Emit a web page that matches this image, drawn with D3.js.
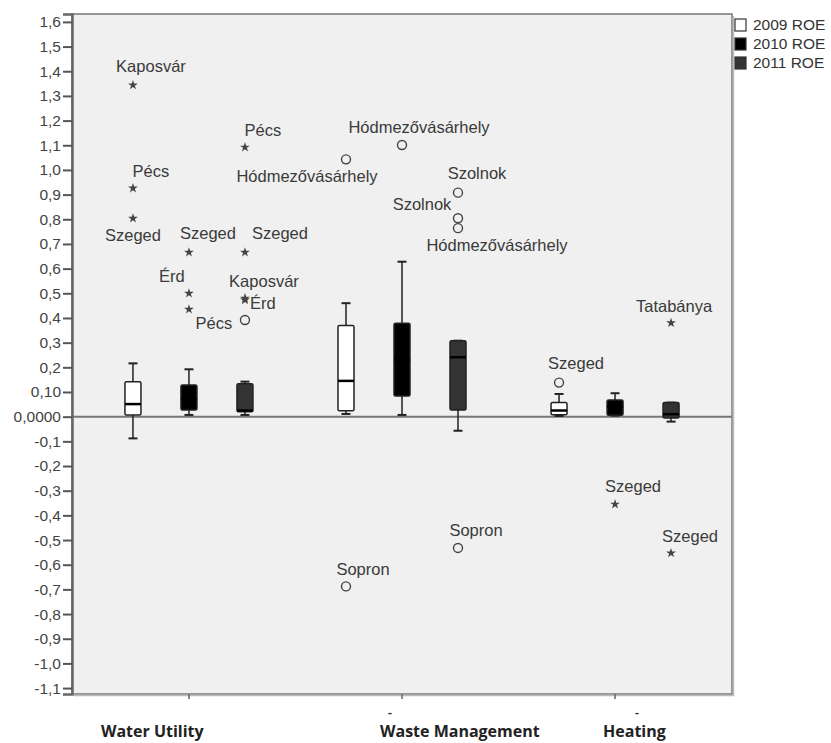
<!DOCTYPE html>
<html>
<head>
<meta charset="utf-8">
<script src="https://cdn.jsdelivr.net/npm/d3@7"></script>
<style>
  body { margin: 0; background: #fff; }
  svg { display: block; }
</style>
</head>
<body>
<div id="chart"></div>
<script>
// categories and series
var categories = ["Water Utility", "Waste Management", "Heating"];
var series = ["2009 ROE", "2010 ROE", "2011 ROE"];
var seriesFill = ["#ffffff", "#000000", "#333333"];

// box stats, rows = category, columns = series
var whiskerLow = [[-0.088, 0.007, 0.007], [0.011, 0.007, -0.057], [0.003, 0.004, -0.02]];
var quartile1  = [[0.007, 0.027, 0.02],   [0.024, 0.084, 0.027],  [0.008, 0.006, -0.005]];
var medians    = [[0.051, 0.07, 0.025],   [0.145, 0.23, 0.241],   [0.025, 0.04, 0.01]];
var quartile3  = [[0.142, 0.128, 0.133],  [0.37, 0.379, 0.308],   [0.057, 0.068, 0.057]];
var whiskerHigh= [[0.216, 0.192, 0.142],  [0.46, 0.628, 0.308],   [0.092, 0.095, 0.057]];

// outliers
var outCategory = [0, 0, 0, 0, 0, 0, 0, 0, 0, 0, 0, 1, 1, 1, 1, 1, 1, 1, 2, 2, 2, 2];
var outSeries   = [0, 0, 0, 1, 1, 1, 2, 2, 2, 2, 2, 0, 0, 1, 2, 2, 2, 2, 0, 1, 2, 2];
var outValue    = [1.344, 0.926, 0.804, 0.666, 0.5, 0.435, 1.092, 0.666, 0.48, 0.473, 0.392,
                   1.043, -0.688, 1.101, 0.908, 0.804, 0.764, -0.532, 0.138, -0.355, 0.38, -0.553];
var outLabel    = ["Kaposvár", "Pécs", "Szeged", "Szeged", "Érd", "", "Pécs", "Szeged", "Kaposvár", "Érd", "Pécs",
                   "Hódmezővásárhely", "Sopron", "Hódmezővásárhely", "Szolnok", "Szolnok", "Hódmezővásárhely", "Sopron",
                   "Szeged", "Szeged", "Tatabánya", "Szeged"];
var outShape    = ["star", "star", "star", "star", "star", "star", "star", "star", "star", "star", "circle",
                   "circle", "circle", "circle", "circle", "circle", "circle", "circle",
                   "circle", "star", "star", "star"];
// where each label sits relative to its point (layout only)
var labelNudge  = [[18, -19], [18, -17], [0, 17], [19, -19], [-17, -17], [0, 0], [18, -17], [35, -19], [19, -17], [18, 3], [-31, 3],
                   [-39, 17], [17, -17], [17, -18], [19, -19], [-36, -14], [39, 17], [18, -18],
                   [17, -19], [18, -18], [3, -17], [19, -17]];

// y ticks
var yTicks = [1.6, 1.5, 1.4, 1.3, 1.2, 1.1, 1.0, 0.9, 0.8, 0.7, 0.6, 0.5, 0.4, 0.3, 0.2, 0.1, 0,
              -0.1, -0.2, -0.3, -0.4, -0.5, -0.6, -0.7, -0.8, -0.9, -1.0, -1.1];
var yTickLabels = ["1,6", "1,5", "1,4", "1,3", "1,2", "1,1", "1,0", "0,9", "0,8", "0,7", "0,6", "0,5", "0,4", "0,3", "0,2", "0,10", "0,0000",
                   "-0,1", "-0,2", "-0,3", "-0,4", "-0,5", "-0,6", "-0,7", "-0,8", "-0,9", "-1,0", "-1,1"];

var svgWidth = 831, svgHeight = 743;
var plot = { left: 72, right: 732, top: 14, bottom: 694 };
var boxW = 16, capW = 9;

var svg = d3.select("#chart").append("svg")
    .attr("width", svgWidth)
    .attr("height", svgHeight);

var y = d3.scaleLinear().domain([-1.124, 1.632]).range([plot.bottom, plot.top]);
var xCat = d3.scalePoint().domain(d3.range(categories.length)).range([plot.left, plot.right]).padding(0.549);
var xSer = d3.scalePoint().domain(d3.range(series.length)).range([-56, 56]);

// plot background + frame
svg.append("rect")
    .attr("x", plot.left).attr("y", plot.top)
    .attr("width", plot.right - plot.left).attr("height", plot.bottom - plot.top)
    .attr("fill", "#f0f0f0")
    .attr("stroke", "#777").attr("stroke-width", 1.5);
// a little shadow on right and bottom
svg.append("path")
    .attr("d", `M${plot.right + 1.5},${plot.top + 2}V${plot.bottom + 1.5}H${plot.left + 2}`)
    .attr("fill", "none").attr("stroke", "#bbb").attr("stroke-width", 1.5);

// zero line
svg.append("line")
    .attr("x1", plot.left).attr("x2", plot.right)
    .attr("y1", y(0)).attr("y2", y(0))
    .attr("stroke", "#777").attr("stroke-width", 2);

// y axis
var yAxis = d3.axisLeft(y)
    .tickValues(yTicks)
    .tickFormat(function(d, i) { return yTickLabels[i]; })
    .tickSize(9)
    .tickPadding(2);

var yG = svg.append("g")
    .attr("transform", `translate(${plot.left}, 0)`)
    .call(yAxis);
yG.select(".domain").attr("stroke", "#666").attr("stroke-width", 2.5);
yG.selectAll(".tick line").attr("stroke", "#555").attr("stroke-width", 2);
yG.selectAll(".tick text")
    .attr("fill", "#444")
    .style("font-family", "'Liberation Sans', Arial, sans-serif")
    .style("font-size", "15.5px");

// x ticks at bottom
svg.append("g").selectAll("line")
    .data(categories)
    .enter()
    .append("line")
    .attr("x1", (d, i) => xCat(i)).attr("x2", (d, i) => xCat(i))
    .attr("y1", plot.bottom).attr("y2", plot.bottom + 5)
    .attr("stroke", "#666").attr("stroke-width", 1.5);

// boxes
var boxes = [];
categories.forEach(function(c, ci) {
    series.forEach(function(s, si) {
        boxes.push({ ci: ci, si: si });
    });
});

var boxG = svg.append("g").selectAll("g")
    .data(boxes)
    .enter()
    .append("g")
    .attr("transform", d => `translate(${xCat(d.ci) + xSer(d.si)}, 0)`);

boxG.append("line")
    .attr("x1", 0).attr("x2", 0)
    .attr("y1", d => y(whiskerLow[d.ci][d.si]))
    .attr("y2", d => y(whiskerHigh[d.ci][d.si]))
    .attr("stroke", "#222").attr("stroke-width", 1.5);

boxG.selectAll(".cap")
    .data(d => [whiskerLow[d.ci][d.si], whiskerHigh[d.ci][d.si]])
    .enter()
    .append("line")
    .attr("class", "cap")
    .attr("x1", -capW / 2).attr("x2", capW / 2)
    .attr("y1", v => y(v)).attr("y2", v => y(v))
    .attr("stroke", "#222").attr("stroke-width", 2);

boxG.append("rect")
    .attr("x", -boxW / 2)
    .attr("width", boxW)
    .attr("y", d => y(quartile3[d.ci][d.si]))
    .attr("height", d => y(quartile1[d.ci][d.si]) - y(quartile3[d.ci][d.si]))
    .attr("rx", 1.5)
    .attr("fill", d => seriesFill[d.si])
    .attr("stroke", "#222").attr("stroke-width", 1.5);

boxG.append("line")
    .attr("x1", -boxW / 2).attr("x2", boxW / 2)
    .attr("y1", d => y(medians[d.ci][d.si]))
    .attr("y2", d => y(medians[d.ci][d.si]))
    .attr("stroke", "#000").attr("stroke-width", 2.5);

// outliers
var outliers = outValue.map(function(v, i) {
    return {
        x: xCat(outCategory[i]) + xSer(outSeries[i]),
        v: v, label: outLabel[i], shape: outShape[i], nudge: labelNudge[i]
    };
});

var outG = svg.append("g").selectAll("g")
    .data(outliers)
    .enter()
    .append("g")
    .attr("transform", d => `translate(${d.x}, ${y(d.v)})`);

outG.filter(d => d.shape === "star")
    .append("path")
    .attr("d", d3.symbol().type(d3.symbolStar).size(30))
    .attr("fill", "#444");

outG.filter(d => d.shape === "circle")
    .append("circle")
    .attr("r", 4.5)
    .attr("fill", "none")
    .attr("stroke", "#444").attr("stroke-width", 1.4);

outG.append("text")
    .attr("x", d => d.nudge[0])
    .attr("y", d => d.nudge[1])
    .attr("dy", "0.35em")
    .attr("text-anchor", "middle")
    .attr("fill", "#3a3a3a")
    .style("font-family", "'Liberation Sans', Arial, sans-serif")
    .style("font-size", "16.5px")
    .text(d => d.label);

// legend
var legend = svg.append("g").selectAll("g")
    .data(series)
    .enter()
    .append("g")
    .attr("transform", (d, i) => `translate(735, ${19 + i * 19})`);

legend.append("rect")
    .attr("width", 11).attr("height", 12)
    .attr("fill", (d, i) => seriesFill[i])
    .attr("stroke", "#333").attr("stroke-width", 1.2);

legend.append("text")
    .attr("x", 18).attr("y", 6)
    .attr("dy", "0.35em")
    .attr("fill", "#333")
    .style("font-family", "'Liberation Sans', Arial, sans-serif")
    .style("font-size", "15.5px")
    .text(d => d);

// category labels under the plot
var catLabelShift = [-88, -22, -12];
svg.append("g").selectAll("text")
    .data(categories)
    .enter()
    .append("text")
    .attr("x", (d, i) => xCat(i) + catLabelShift[i])
    .attr("y", 737)
    .attr("fill", "#222")
    .style("font-family", "'Open Sans', Lato, sans-serif")
    .style("font-weight", "bold")
    .style("font-size", "16px")
    .text(d => d);

// the stray dashes above two of the labels
svg.append("g").selectAll("text")
    .data([1, 2])
    .enter()
    .append("text")
    .attr("x", d => xCat(d) - (d === 1 ? 12 : -22))
    .attr("y", 718)
    .attr("text-anchor", "middle")
    .attr("fill", "#333")
    .style("font-family", "Lato, sans-serif")
    .style("font-weight", "bold")
    .style("font-size", "13px")
    .text("-");
</script>
</body>
</html>
